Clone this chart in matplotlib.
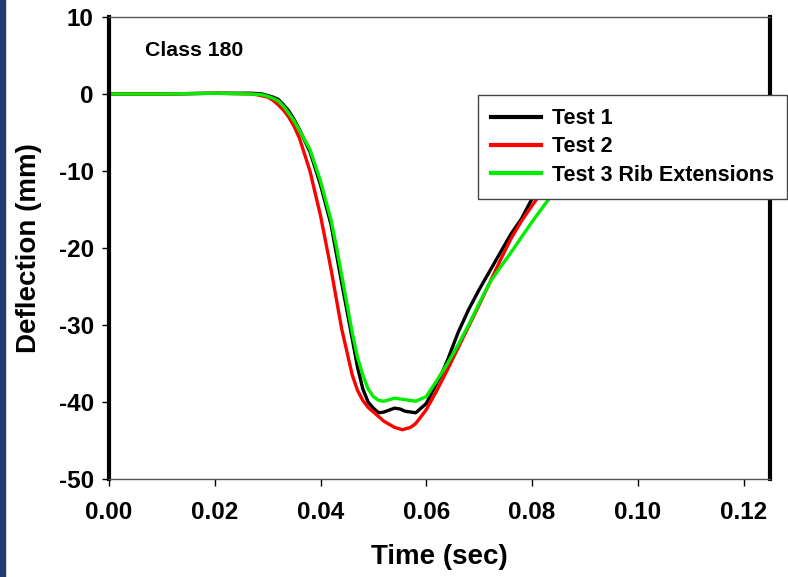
import numpy as np
import matplotlib
matplotlib.use("Agg")
import matplotlib.pyplot as plt
from matplotlib.patches import Rectangle

plt.rcParams['font.family'] = ['Liberation Sans', 'DejaVu Sans']
plt.rcParams['font.weight'] = 'bold'
plt.rcParams['axes.unicode_minus'] = False

# Test 1 (black)
t1 = [0.000, 0.010, 0.020, 0.027, 0.029, 0.030, 0.031, 0.032, 0.033, 0.034, 0.035,
      0.036, 0.038, 0.040, 0.042, 0.044, 0.046, 0.047, 0.048, 0.049, 0.050, 0.051,
      0.052, 0.054, 0.055, 0.056, 0.058, 0.060, 0.062, 0.063, 0.064, 0.066, 0.068,
      0.070, 0.072, 0.074, 0.076, 0.078, 0.080, 0.082, 0.085, 0.090, 0.095]
d1 = [0.0, 0.0, 0.1, 0.1, 0.0, -0.2, -0.4, -0.7, -1.4, -2.2, -3.3,
      -4.6, -7.5, -11.8, -17.0, -24.5, -31.8, -35.5, -38.3, -40.0, -40.8, -41.4,
      -41.3, -40.8, -40.9, -41.2, -41.4, -40.2, -37.5, -36.2, -34.6, -31.0, -28.0,
      -25.4, -23.0, -20.6, -18.2, -16.2, -13.6, -11.5, -8.5, -5.0, -2.5]

# Test 2 (red)
t2 = [0.000, 0.010, 0.020, 0.027, 0.028, 0.030, 0.031, 0.032, 0.033, 0.034, 0.035,
      0.036, 0.038, 0.040, 0.042, 0.044, 0.046, 0.047, 0.048, 0.049, 0.050, 0.052,
      0.054, 0.0555, 0.057, 0.058, 0.060, 0.062, 0.064, 0.066, 0.068, 0.070, 0.072,
      0.074, 0.076, 0.078, 0.080, 0.082, 0.085, 0.090, 0.095]
d2 = [0.0, 0.0, 0.1, 0.0, -0.1, -0.4, -0.8, -1.4, -2.1, -3.0, -4.2,
      -5.7, -10.0, -15.8, -22.8, -30.5, -36.5, -38.5, -39.8, -40.7, -41.3, -42.5,
      -43.3, -43.6, -43.3, -42.8, -41.0, -38.5, -35.8, -33.0, -30.2, -27.4, -24.5,
      -21.6, -18.8, -16.5, -14.5, -12.6, -10.0, -6.0, -3.0]

# Test 3 Rib Extensions (green)
t3 = [0.000, 0.010, 0.020, 0.027, 0.029, 0.030, 0.031, 0.032, 0.033, 0.034, 0.035,
      0.036, 0.038, 0.040, 0.042, 0.043, 0.044, 0.046, 0.047, 0.048, 0.049, 0.050,
      0.051, 0.052, 0.054, 0.056, 0.058, 0.060, 0.062, 0.064, 0.066, 0.068, 0.070,
      0.072, 0.074, 0.076, 0.078, 0.080, 0.083, 0.086, 0.090, 0.095]
d3 = [0.0, 0.0, 0.1, 0.0, -0.1, -0.3, -0.55, -0.9, -1.6, -2.5, -3.5,
      -4.7, -7.2, -11.3, -16.4, -19.8, -23.5, -31.0, -34.2, -36.5, -38.3, -39.3,
      -39.8, -39.9, -39.5, -39.7, -39.9, -39.3, -37.2, -35.0, -32.6, -30.0, -27.2,
      -24.5, -22.5, -20.6, -18.6, -16.6, -13.8, -11.2, -7.5, -4.5]

labels = ["Test 1", "Test 2", "Test 3 Rib Extensions"]
colors = ["#000000", "#ff0000", "#00ee00"]

fig = plt.figure(figsize=(7.88, 5.77), dpi=100)
fig.patches.append(Rectangle((0, 0), 5 / 788, 1, transform=fig.transFigure,
                             color="#1e3c6e", zorder=0))
ax = fig.add_axes([109 / 788, 1 - 479 / 577, (770 - 109) / 788, (479 - 17) / 577])

for t, d, lab, c in zip([t1, t2, t3], [d1, d2, d3], labels, colors):
    ax.plot(t, d, color=c, lw=2.4, label=lab, solid_joinstyle='round')

ax.set_xlim(0, 0.125)
ax.set_ylim(-50, 10)
ax.set_xticks(np.arange(0, 0.121, 0.02))
ax.set_xticklabels(["%.2f" % v for v in np.arange(0, 0.121, 0.02)])
ax.set_yticks(np.arange(-50, 11, 10))
ax.tick_params(axis='both', direction='out', length=5, width=1, labelsize=17.5)
ax.tick_params(axis='x', pad=11)
ax.tick_params(axis='y', pad=6)

for s in ['left', 'right']:
    ax.spines[s].set_linewidth(3)
for s in ['top', 'bottom']:
    ax.spines[s].set_linewidth(1)
    ax.spines[s].set_color('#555555')

ax.set_xlabel("Time (sec)", fontsize=20, fontweight='bold', labelpad=14)
ax.set_ylabel("Deflection (mm)", fontsize=20, fontweight='bold', labelpad=12)

ax.text(0.0068, 5.7, "Class 180", fontsize=15.3, fontweight='bold', va='center')

leg = ax.legend(loc='upper left', bbox_to_anchor=(478 / 788, 1 - 95 / 577),
                bbox_transform=fig.transFigure, borderaxespad=0, fontsize=15.5,
                handlelength=2.3, handletextpad=0.5, labelspacing=0.33,
                borderpad=0.62, fancybox=False, framealpha=1)
leg.get_frame().set_edgecolor('#444444')
leg.get_frame().set_linewidth(1)
for line in leg.get_lines():
    line.set_linewidth(3)

fig.savefig("out.png", dpi=100)
